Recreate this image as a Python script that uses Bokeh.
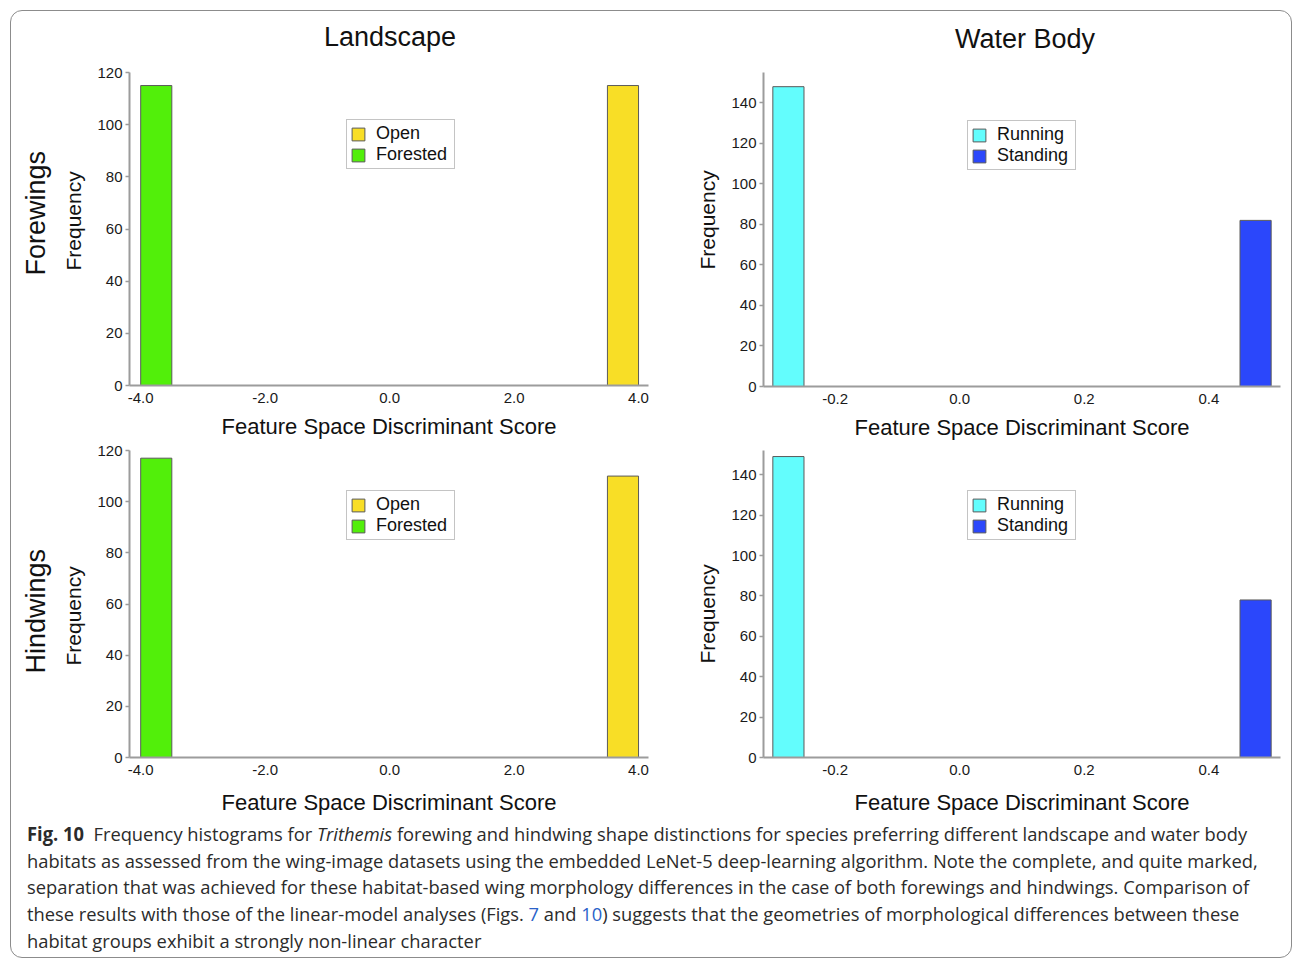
from bokeh.plotting import figure
from bokeh.layouts import column, row
from bokeh.models import FixedTicker, NumeralTickFormatter, Title, Range1d, Div
from bokeh.embed import file_html
from bokeh.resources import INLINE

# ---------------- data ----------------
land_ticks = [-4.0, -2.0, 0.0, 2.0, 4.0]
water_ticks = [-0.2, 0.0, 0.2, 0.4]
land_freq_ticks = [0, 20, 40, 60, 80, 100, 120]
water_freq_ticks = [0, 20, 40, 60, 80, 100, 120, 140]

land_groups = ["Open", "Forested"]
land_bin_left = [3.5, -4.0]
land_bin_right = [4.0, -3.5]
fore_land_counts = [115, 115]
hind_land_counts = [110, 117]

water_groups = ["Running", "Standing"]
water_bin_left = [-0.30, 0.45]
water_bin_right = [-0.25, 0.50]
fore_water_counts = [148, 82]
hind_water_counts = [149, 78]

column_titles = ["Landscape", "Water Body"]
row_titles = ["Forewings", "Hindwings"]

# ---------------- styles ----------------
LAND_COLORS = {"Open": "#f8de26", "Forested": "#52ef0a"}
WATER_COLORS = {"Running": "#63fdfd", "Standing": "#2b47fb"}
AXIS_GREY = "#9c9c9c"
FONT = "Liberation Sans"


def make_panel(groups, lefts, rights, counts, colors, xr, yr, xticks, yticks,
               fw, fh, mbl, mbr, mbt, mbb, xlabel_standoff, row_label=None,
               freq_offset=0, row_offset=0, legend_loc=(0, 0)):
    p = figure(x_range=Range1d(*xr), y_range=Range1d(*yr),
               frame_width=fw, frame_height=fh,
               min_border_left=mbl, min_border_right=mbr,
               min_border_top=mbt, min_border_bottom=mbb,
               title=None,
               output_backend="svg", toolbar_location=None, tools="")
    p.outline_line_color = None
    p.grid.visible = False
    p.background_fill_color = "white"
    p.border_fill_color = "white"

    for g, l, r, c in zip(groups, lefts, rights, counts):
        p.quad(left=[l], right=[r], bottom=[0], top=[c],
               fill_color=colors[g], line_color="#5a5a5a", line_width=1,
               legend_label=g)

    for ax in (p.xaxis[0], p.yaxis[0]):
        ax.axis_line_color = AXIS_GREY
        ax.axis_line_width = 2
        ax.major_tick_line_color = AXIS_GREY
        ax.major_tick_line_width = 1.5
        ax.minor_tick_line_color = None
        ax.major_label_text_font = FONT
        ax.major_label_text_font_size = "15px"
        ax.major_label_text_color = "#1a1a1a"
    p.xaxis.ticker = FixedTicker(ticks=xticks)
    p.yaxis.ticker = FixedTicker(ticks=yticks)
    p.xaxis.formatter = NumeralTickFormatter(format="0.0")
    p.xaxis.major_tick_out = 0
    p.xaxis.major_tick_in = 0
    p.yaxis.major_tick_out = 4
    p.yaxis.major_tick_in = 0
    p.xaxis.major_label_standoff = 7
    p.yaxis.major_label_standoff = 3
    p.xaxis.axis_label = "Feature Space Discriminant Score"
    p.xaxis.axis_label_text_font = FONT
    p.xaxis.axis_label_text_font_size = "22px"
    p.xaxis.axis_label_text_font_style = "normal"
    p.xaxis.axis_label_text_color = "#111111"
    p.xaxis.axis_label_standoff = xlabel_standoff

    p.add_layout(Title(text="Frequency", align="left", offset=freq_offset,
                       text_font=FONT, text_font_size="21px",
                       text_font_style="normal", text_color="#111111",
                       standoff=19), "left")
    if row_label:
        p.add_layout(Title(text=row_label, align="left", offset=row_offset,
                           text_font=FONT, text_font_size="27px",
                           text_font_style="normal", text_color="#111111",
                           standoff=0), "left")

    lg = p.legend[0]
    lg.location = legend_loc
    lg.margin = 0
    lg.padding = 3
    lg.spacing = 0
    lg.label_height = 21
    lg.label_width = 75
    lg.glyph_height = 16
    lg.glyph_width = 16
    lg.label_standoff = 10
    lg.label_text_font = FONT
    lg.label_text_font_size = "18px"
    lg.label_text_color = "#111111"
    lg.border_line_color = "#8a8a8a"
    lg.border_line_width = 1
    lg.background_fill_color = "white"
    lg.background_fill_alpha = 1.0
    return p


p_tl = make_panel(land_groups, land_bin_left, land_bin_right, fore_land_counts,
                  LAND_COLORS, (-4.18, 4.16), (0, 120), land_ticks, land_freq_ticks,
                  519, 313, 118, 32, 12, 54, 8, row_label=row_titles[0],
                  freq_offset=115, row_offset=110, legend_loc=(217, 216))
p_tr = make_panel(water_groups, water_bin_left, water_bin_right, fore_water_counts,
                  WATER_COLORS, (-0.315, 0.515), (0, 155), water_ticks, water_freq_ticks,
                  517, 314, 83, 11, 11, 54, 8,
                  freq_offset=117, legend_loc=(204, 216))
p_bl = make_panel(land_groups, land_bin_left, land_bin_right, hind_land_counts,
                  LAND_COLORS, (-4.18, 4.16), (0, 120), land_ticks, land_freq_ticks,
                  519, 307, 118, 32, 9, 60, 12, row_label=row_titles[1],
                  freq_offset=92, row_offset=84, legend_loc=(217, 217))
p_br = make_panel(water_groups, water_bin_left, water_bin_right, hind_water_counts,
                  WATER_COLORS, (-0.315, 0.515), (0, 152), water_ticks, water_freq_ticks,
                  517, 307, 83, 11, 9, 60, 12,
                  freq_offset=94, legend_loc=(204, 217))

title_div = Div(
    text=("<div style=\"position:relative;width:1280px;height:49px;font-family:'Liberation Sans';"
          "font-size:27px;color:#111;line-height:32px;\">"
          f"<span style='position:absolute;left:379px;top:10px;transform:translateX(-50%);white-space:nowrap;'>{column_titles[0]}</span>"
          f"<span style='position:absolute;left:1014px;top:12px;transform:translateX(-50%);white-space:nowrap;'>{column_titles[1]}</span>"
          "</div>"),
    width=1280, height=49, margin=0)

LINK = "#2a62c9"
caption_lines = [
    "<b>Fig. 10</b>&nbsp; Frequency histograms for <i>Trithemis</i> forewing and hindwing shape distinctions for species preferring different landscape and water body",
    "habitats as assessed from the wing-image datasets using the embedded LeNet-5 deep-learning algorithm. Note the complete, and quite marked,",
    "separation that was achieved for these habitat-based wing morphology differences in the case of both forewings and hindwings. Comparison of",
    f"these results with those of the linear-model analyses (Figs. <span style='color:{LINK}'>7</span> and <span style='color:{LINK}'>10</span>) suggests that the geometries of morphological differences between these",
    "habitat groups exhibit a strongly non-linear character",
]
line_html = "".join(
    f"<div style='white-space:nowrap;height:26.7px;line-height:26.7px;transform:scaleX(0.964);transform-origin:0 50%;'>{ln}</div>"
    for ln in caption_lines)
caption = Div(text=f"<div style=\"font-family:'Open Sans';font-size:19px;color:#2b2b2b;padding:4px 0 0 16px;\">{line_html}</div>",
              width=1280, height=140, margin=0)

layout = column(title_div, row(p_tl, p_tr), row(p_bl, p_br), caption,
                styles={"border": "1px solid #8c8c8c", "border-radius": "12px"},
                margin=(10, 0, 0, 10))

open("out.html", "w").write(file_html(layout, INLINE))
